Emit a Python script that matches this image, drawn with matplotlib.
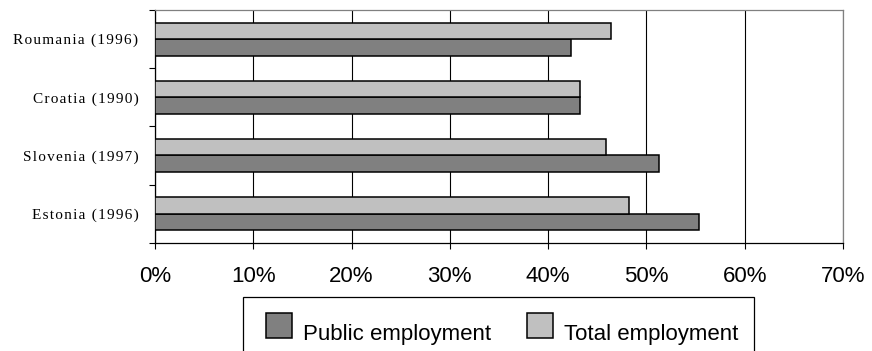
import matplotlib
matplotlib.use("Agg")
import matplotlib.pyplot as plt
from matplotlib.patches import Rectangle
import numpy as np

countries = ["Estonia (1996)", "Slovenia (1997)", "Croatia (1990)", "Roumania (1996)"]
public_emp = [55.3, 51.3, 43.2, 42.3]
total_emp = [48.2, 45.9, 43.2, 46.4]
x_ticks = [0, 10, 20, 30, 40, 50, 60, 70]
series_names = ["Public employment", "Total employment"]
series_colors = ["#808080", "#c0c0c0"]

W, H = 872, 351
fig = plt.figure(figsize=(W / 100, H / 100), dpi=100)
ax = fig.add_axes([155 / W, 108.3 / H, 688 / W, 232.7 / H])

y = np.arange(len(countries))
h = 0.284
ax.barh(y - h / 2, public_emp, height=h, color=series_colors[0], edgecolor="black",
        linewidth=1.1, zorder=3)
ax.barh(y + h / 2, total_emp, height=h, color=series_colors[1], edgecolor="black",
        linewidth=1.1, zorder=3)

ax.set_xlim(0, 70)
ax.set_ylim(-0.5, len(countries) - 0.5)
ax.set_xticks(x_ticks)
ax.set_xticklabels([f"{v}%" for v in x_ticks], family="Liberation Sans", fontsize=16)
ax.tick_params(axis="x", direction="out", length=4, width=0.8, pad=13)

# spaced-out serif labels between boundary ticks
def spaced(s):
    return "\u200a".join(s)

ax.set_yticks(np.arange(-0.5, len(countries), 1.0))
ax.set_yticklabels([])
ax.set_yticks(y, minor=True)
ax.set_yticklabels([spaced(c) for c in countries], minor=True,
                   family="Liberation Serif", fontsize=11)
ax.tick_params(axis="y", which="major", direction="out", length=4, width=0.8)
ax.tick_params(axis="y", which="minor", length=0, pad=12)

ax.xaxis.grid(True, color="black", linewidth=0.8, zorder=0)
ax.set_axisbelow(True)
for side in ("left", "bottom"):
    ax.spines[side].set_color("black")
    ax.spines[side].set_linewidth(0.9)
for side in ("top", "right"):
    ax.spines[side].set_color("#808080")
    ax.spines[side].set_linewidth(0.9)

# legend drawn by hand; its frame runs off the bottom of the figure
fig.patches.append(Rectangle((242.7 / W, -0.05), (754 - 242.7) / W, 0.05 + 54.3 / H,
                             transform=fig.transFigure, fill=False,
                             edgecolor="black", linewidth=0.9))
key_x = [265.7, 526.7]
for kx, name, col in zip(key_x, series_names, series_colors):
    fig.patches.append(Rectangle((kx / W, (H - 337.7) / H), 26 / W, 25 / H,
                                 transform=fig.transFigure, facecolor=col,
                                 edgecolor="black", linewidth=1.1))
    fig.text((kx + 37.5) / W, (H - 340) / H, name, family="Liberation Sans",
             fontsize=16, ha="left", va="baseline")

fig.savefig("out.png", dpi=100)
